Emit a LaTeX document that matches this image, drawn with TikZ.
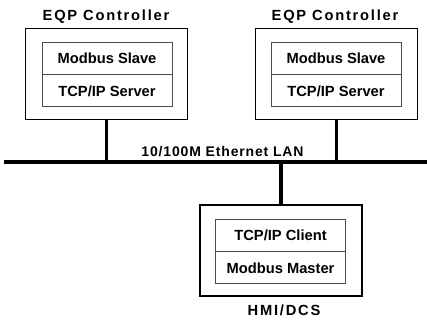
\documentclass[tikz,border=0pt]{standalone}
\usepackage{fontspec}
\setmainfont{Liberation Sans}
\usetikzlibrary{positioning,calc}

\tikzset{
  unit/.style={draw, line width=1.6pt, minimum width=162pt, minimum height=91pt, inner sep=0pt},
  layer/.style={draw=black!70, line width=0.9pt, minimum width=130pt, minimum height=32pt,
    inner sep=0pt, font=\fontsize{14.7}{17}\selectfont\bfseries},
  caption/.style={inner sep=0pt, font=\fontsize{14.7}{17}\selectfont\bfseries\addfontfeature{LetterSpace=12}},
  buslabel/.style={inner sep=0pt, font=\fontsize{14}{17}\selectfont\bfseries\addfontfeature{LetterSpace=6}},
  wire/.style={line width=3.5pt},
}

\begin{document}
\begin{tikzpicture}[x=1pt, y=-1pt]
	\useasboundingbox (0,0) rectangle (427,323);

	% controllers on the top
	\node[unit] (ctrlA) at (106.5,74) {};
	\node[caption] (titleA) at (106,17) {EQP Controller};
	\node[layer] (slaveA) at (107,58) {Modbus Slave};
	\node[layer, below=0pt of slaveA] (serverA) {TCP/IP Server};

	\node[unit] (ctrlB) at (336.5,74) {};
	\node[caption] (titleB) at (335,17) {EQP Controller};
	\node[layer] (slaveB) at (336,58) {Modbus Slave};
	\node[layer, below=0pt of slaveB] (serverB) {TCP/IP Server};

	% HMI at the bottom
	\node[unit] (hmi) at (281,250.5) {};
	\node[caption] (titleH) at (284,310) {HMI/DCS};
	\node[layer] (client) at (280.5,235) {TCP/IP Client};
	\node[layer, below=0pt of client] (master) {Modbus Master};

	% ethernet bus
	\coordinate (busL) at (4,162);
	\coordinate (busR) at (427,162);
	\draw[wire] (busL) -- (busR);
	\node[buslabel] (lan) at (222.5,152) {10/100M Ethernet LAN};

	\draw[wire] (ctrlA.south) -- (ctrlA.south |- busL);
	\draw[wire] (ctrlB.south) -- (ctrlB.south |- busL);
	\draw[wire] (hmi.north) -- (hmi.north |- busL);
\end{tikzpicture}
\end{document}
